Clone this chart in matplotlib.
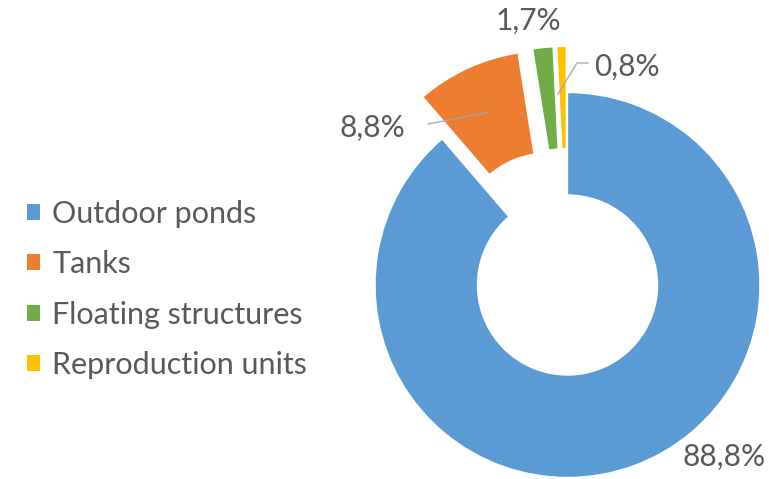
import matplotlib.pyplot as plt
from matplotlib.patches import Patch

# Share of production by system (%)
categories = ['Outdoor ponds', 'Tanks', 'Floating structures', 'Reproduction units']
shares = [88.8, 8.8, 1.7, 0.8]
colors = ['#5B9BD5', '#ED7D31', '#70AD47', '#FFC000']
explode = [0, 0.24, 0.24, 0.24]

TEXT = '#595959'
LEADER = '#A6A6A6'
plt.rcParams['font.family'] = ['Lato', 'DejaVu Sans']

W, H = 769, 479
CX, CY, R = 567.5, 285, 192.5     # pie centre and radius in pixels


def px(x, y):
    # pixel position -> data coordinates (pie radius = 1)
    return (x - CX) / R, (CY - y) / R


fig = plt.figure(figsize=(W / 100, H / 100), dpi=100)
ax = fig.add_axes([0, 0, 1, 1])

wedges, _ = ax.pie(shares, colors=colors, explode=explode, startangle=90,
                   counterclock=False, radius=1,
                   wedgeprops=dict(width=102.5 / R, edgecolor='white',
                                   linewidth=1))
ax.set_xlim(-CX / R, (W - CX) / R)
ax.set_ylim(-(H - CY) / R, CY / R)
ax.set_aspect('auto')
ax.axis('off')

labels = [('%.1f%%' % s).replace('.', ',') for s in shares]
label_pos = [px(724, 457), px(372, 128), px(528, 21), px(627, 67)]
for lab, pos in zip(labels, label_pos):
    ax.text(pos[0], pos[1], lab, fontsize=21.5, color=TEXT,
            ha='center', va='center')

# leader lines for the two small labels
l1 = [px(428, 124), px(490, 112)]
ax.plot([l1[0][0], l1[1][0]], [l1[0][1], l1[1][1]], color=LEADER, lw=0.9)
l2 = [px(558, 94), px(577, 63), px(588, 63)]
ax.plot([p[0] for p in l2], [p[1] for p in l2], color=LEADER, lw=0.9)

handles = [Patch(facecolor=c, edgecolor='none') for c in colors]
fig.legend(handles, categories, loc='upper left',
           bbox_to_anchor=(27 / W, 1 - 200 / H), frameon=False,
           fontsize=22, labelcolor=TEXT, handlelength=0.42, handleheight=0.42,
           handletextpad=0.4, labelspacing=0.73, borderpad=0, borderaxespad=0)

fig.savefig('out.png', dpi=100)
